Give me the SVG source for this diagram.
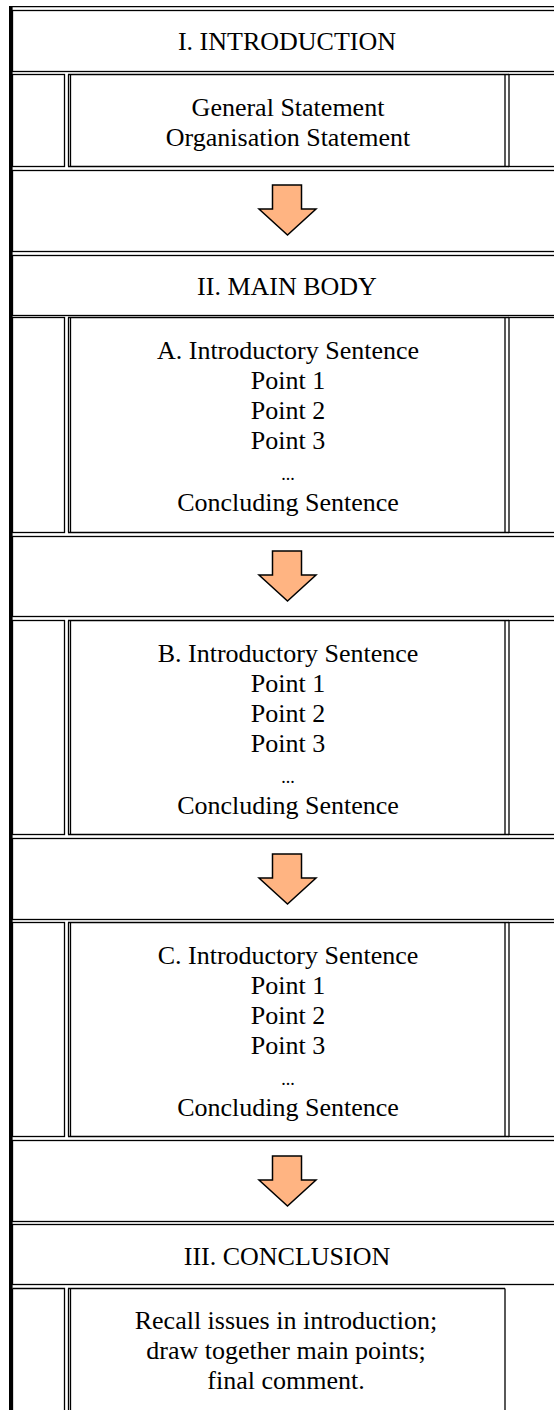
<svg xmlns="http://www.w3.org/2000/svg" width="554" height="1410" viewBox="0 0 554 1410">
<style>
.c{fill:none;stroke:#000;stroke-width:1.3}
.l{stroke:#000;stroke-width:1.3;fill:none}
.t{font-family:"Liberation Serif","Times New Roman",serif;font-size:26px;fill:#000;text-anchor:middle}
.d{font-size:18px}
.arr{fill:#FFB482;stroke:#000;stroke-width:1.5;stroke-linejoin:miter}
</style>
<defs>
<path id="arrow" class="arr" d="M272.5,0 H301.5 V24 H316 L287.5,50 L259,24 H272.5 Z"/>
</defs>
<rect width="554" height="1410" fill="#fff"/>
<g id="frame">
<rect x="9" y="6" width="3.6" height="1404" fill="#000"/>
<line class="l" x1="9" y1="6.6" x2="554" y2="6.6"/>
</g>
<g id="intro-header">
<rect class="c" x="12.5" y="10.5" width="600" height="61"/>
<text class="t" x="287" y="50">I. INTRODUCTION</text>
</g>
<g id="intro-content">
<rect class="c" x="12.5" y="74.5" width="52" height="92"/>
<path class="l" d="M68,74.5 H509 M68,166.5 H509 M68.5,74.5 V166.5 M70.5,74.5 V166.5 M505,74.5 V166.5"/>
<rect class="c" x="509" y="74.5" width="100" height="92"/>
<text class="t" x="288" y="116">General Statement</text>
<text class="t" x="288" y="146">Organisation Statement</text>
</g>
<g id="arrow-row-1"><rect class="c" x="12.5" y="170.5" width="600" height="81"/></g>
<g id="main-body-header">
<rect class="c" x="12.5" y="255.5" width="600" height="60"/>
<text class="t" x="287" y="295">II. MAIN BODY</text>
</g>
<g id="paragraph-a">
<rect class="c" x="12.5" y="317.5" width="52" height="215"/>
<path class="l" d="M68,317.5 H509 M68,532.5 H509 M68.5,317.5 V532.5 M70.5,317.5 V532.5 M505,317.5 V532.5"/>
<rect class="c" x="509" y="317.5" width="100" height="215"/>
<text class="t" x="288" y="359">A. Introductory Sentence</text>
<text class="t" x="288" y="389">Point 1</text>
<text class="t" x="288" y="419">Point 2</text>
<text class="t" x="288" y="449">Point 3</text>
<text class="t d" x="288" y="480">...</text>
<text class="t" x="288" y="511">Concluding Sentence</text>
</g>
<g id="arrow-row-2"><rect class="c" x="12.5" y="536.5" width="600" height="80"/></g>
<g id="paragraph-b">
<rect class="c" x="12.5" y="620.5" width="52" height="214"/>
<path class="l" d="M68,620.5 H509 M68,834.5 H509 M68.5,620.5 V834.5 M70.5,620.5 V834.5 M505,620.5 V834.5"/>
<rect class="c" x="509" y="620.5" width="100" height="214"/>
<text class="t" x="288" y="662">B. Introductory Sentence</text>
<text class="t" x="288" y="692">Point 1</text>
<text class="t" x="288" y="722">Point 2</text>
<text class="t" x="288" y="752">Point 3</text>
<text class="t d" x="288" y="783">...</text>
<text class="t" x="288" y="814">Concluding Sentence</text>
</g>
<g id="arrow-row-3"><rect class="c" x="12.5" y="838.5" width="600" height="81"/></g>
<g id="paragraph-c">
<rect class="c" x="12.5" y="922.5" width="52" height="214"/>
<path class="l" d="M68,922.5 H509 M68,1136.5 H509 M68.5,922.5 V1136.5 M70.5,922.5 V1136.5 M505,922.5 V1136.5"/>
<rect class="c" x="509" y="922.5" width="100" height="214"/>
<text class="t" x="288" y="964">C. Introductory Sentence</text>
<text class="t" x="288" y="994">Point 1</text>
<text class="t" x="288" y="1024">Point 2</text>
<text class="t" x="288" y="1054">Point 3</text>
<text class="t d" x="288" y="1085">...</text>
<text class="t" x="288" y="1116">Concluding Sentence</text>
</g>
<g id="arrow-row-4"><rect class="c" x="12.5" y="1140.5" width="600" height="81"/></g>
<g id="conclusion-header">
<rect class="c" x="12.5" y="1224.5" width="600" height="60"/>
<text class="t" x="287" y="1265">III. CONCLUSION</text>
</g>
<g id="conclusion-content">
<path class="l" d="M12.5,1288.5 H64.5 V1420 M12.5,1288.5 V1420"/>
<path class="l" d="M68,1288.5 H505 M68.5,1288.5 V1420 M70.5,1288.5 V1420 M505,1288.5 V1420"/>
<text class="t" x="286" y="1329">Recall issues in introduction;</text>
<text class="t" x="286" y="1359">draw together main points;</text>
<text class="t" x="286" y="1389">final comment.</text>
</g>
<g id="connectors">
<use href="#arrow" y="185"/>
<use href="#arrow" y="551"/>
<use href="#arrow" y="854"/>
<use href="#arrow" y="1156"/>
</g>
</svg>
